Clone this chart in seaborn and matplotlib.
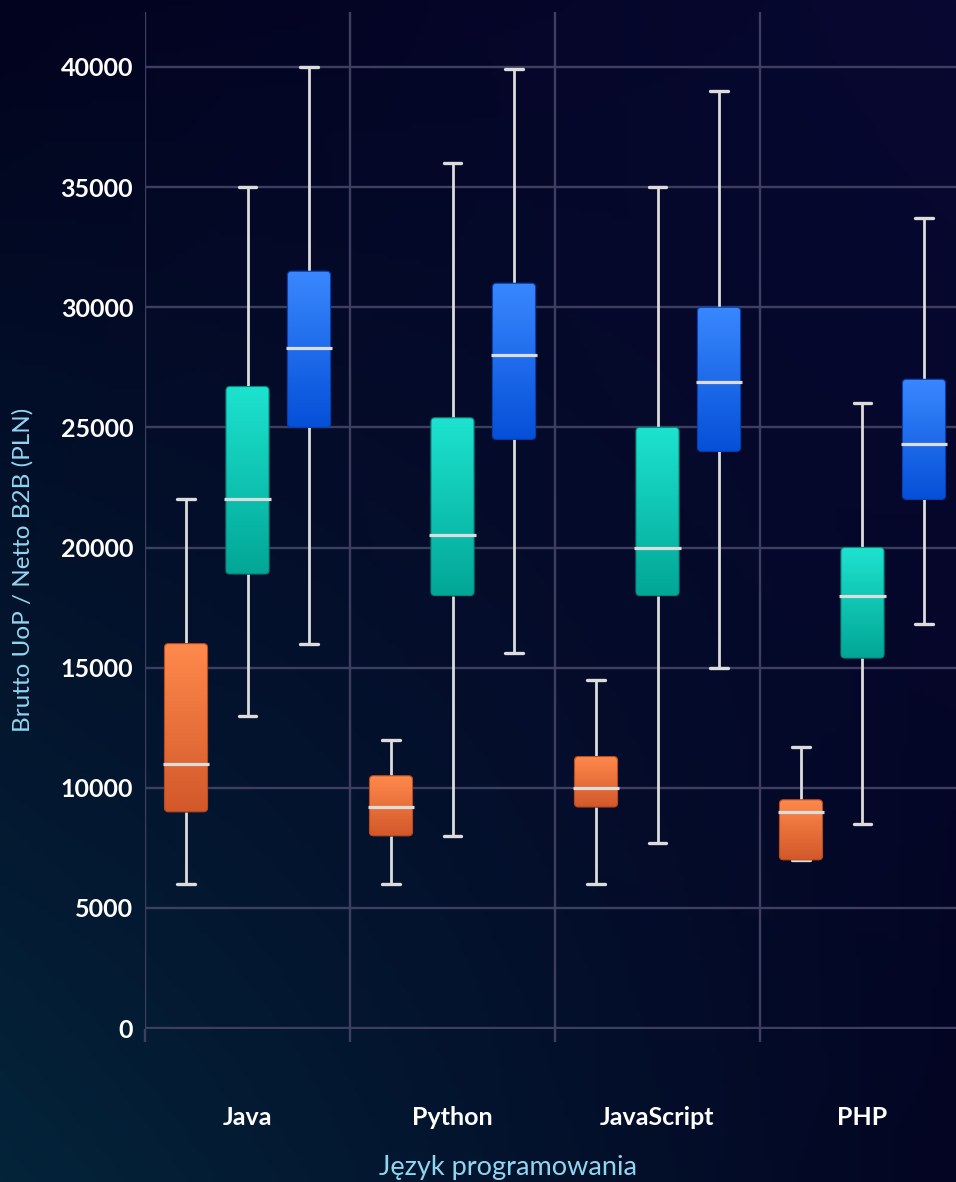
import numpy as np
import pandas as pd
import matplotlib
matplotlib.use("Agg")
import matplotlib.pyplot as plt
from matplotlib.patches import FancyBboxPatch
from matplotlib.colors import LinearSegmentedColormap
import seaborn as sns

# ---------------------------------------------------------------------------
# Data: [min, Q1, median, Q3, max] per language
# ---------------------------------------------------------------------------
languages = ["Java", "Python", "JavaScript", "PHP"]
levels = ["Junior", "Mid", "Senior"]

junior = [[6000, 9000, 11000, 16000, 22000],
          [6000, 8000, 9200, 10500, 12000],
          [6000, 9200, 10000, 11300, 14500],
          [7000, 7000, 9000, 9500, 11700]]
mid = [[13000, 18900, 22000, 26700, 35000],
       [8000, 18000, 20500, 25400, 36000],
       [7700, 18000, 20000, 25000, 35000],
       [8500, 15400, 18000, 20000, 26000]]
senior = [[16000, 25000, 28300, 31500, 40000],
          [15600, 24500, 28000, 31000, 39900],
          [15000, 24000, 26900, 30000, 39000],
          [16800, 22000, 24300, 27000, 33700]]

rows = []
for level, series in zip(levels, [junior, mid, senior]):
    for lang, stats in zip(languages, series):
        for v in stats:
            rows.append({"lang": lang, "level": level, "value": v})
df = pd.DataFrame(rows)

# gradient (top, bottom) per level
grad_colors = {"Junior": ("#ff8a4c", "#d2582a"),
               "Mid": ("#1de3cf", "#02a696"),
               "Senior": ("#3a88ff", "#0550d8")}
edge_colors = {"Junior": "#b84a20", "Mid": "#038a7d", "Senior": "#0441b0"}

BG = "#03041f"
GRID = "#3e3e60"
LINE = "#dcdcdc"
LABEL = "#8fd6f2"

sns.set_theme(style="dark")
plt.rcParams["font.family"] = ["Lato", "DejaVu Sans"]

W, H = 956, 1182
fig = plt.figure(figsize=(W / 100, H / 100), dpi=100, facecolor=BG)

# background gradient
bg = fig.add_axes([0, 0, 1, 1], zorder=-10)
yy, xx = np.mgrid[0:1:200j, 0:1:200j]
tl = np.array([2, 3, 30]) / 255
tr = np.array([8, 8, 50]) / 255
bl = np.array([4, 36, 58]) / 255
br = np.array([3, 5, 34]) / 255
img = ((1 - xx)[..., None] * (1 - yy)[..., None] * tl + xx[..., None] * (1 - yy)[..., None] * tr
       + (1 - xx)[..., None] * yy[..., None] * bl + xx[..., None] * yy[..., None] * br)
bg.imshow(img, extent=(0, 1, 0, 1), aspect="auto", origin="upper")
bg.axis("off")

ymin = -60
ymax = (1028 - 12) / 24.025 * 1000
ax_left, ax_bottom = 145 / W, 1 - (1028 + 24.025 * 0.06) / H
ax_w, ax_h = 820 / W, (ymax - ymin) * 24.025 / 1000 / H
ax = fig.add_axes([ax_left, ax_bottom, ax_w, ax_h])
ax.set_facecolor("none")

sns.boxplot(data=df, x="lang", y="value", hue="level", order=languages,
            hue_order=levels, whis=(0, 100), width=0.9, gap=0.3,
            legend=False, ax=ax,
            whiskerprops=dict(color=LINE, linewidth=2.0),
            capprops=dict(color=LINE, linewidth=2.4),
            medianprops=dict(color=LINE, linewidth=2.3, zorder=5),
            boxprops=dict(linewidth=0))

ax.set_xlim(-0.5, 3.5)
ax.set_ylim(ymin, ymax)

px_x = 820 / 4.0
px_y = 24.025 / 1000
aspect = px_x / px_y
r = 4 / px_x

for level, bc in zip(levels, ax.containers):
    top, bot = grad_colors[level]
    cmap = LinearSegmentedColormap.from_list(level, [bot, top])
    for box in bc.boxes:
        verts = box.get_path().vertices
        x0, x1 = verts[:, 0].min(), verts[:, 0].max()
        y0, y1 = verts[:, 1].min(), verts[:, 1].max()
        box.set_visible(False)
        rb = FancyBboxPatch((x0, y0), x1 - x0, y1 - y0,
                            boxstyle=f"round,pad=0,rounding_size={r}",
                            mutation_aspect=aspect, facecolor="none",
                            edgecolor=edge_colors[level], linewidth=0.8, zorder=4)
        ax.add_patch(rb)
        grad = np.linspace(0, 1, 256).reshape(-1, 1)
        im = ax.imshow(grad, extent=(x0, x1, y0, y1), aspect="auto",
                       origin="lower", cmap=cmap, zorder=3)
        im.set_clip_path(rb)
    for cap in bc.caps:
        xd = cap.get_xdata()
        c = (xd[0] + xd[1]) / 2
        cap.set_xdata([c - 0.042, c + 0.042])
    for med in bc.medians:
        xd = med.get_xdata()
        med.set_xdata([min(xd) - 0.008, max(xd) + 0.008])

ax.set_xlim(-0.5, 3.5)
ax.set_ylim(ymin, ymax)

# grid
ax.set_yticks(np.arange(0, 40001, 5000))
ax.set_xticks(range(len(languages)))
ax.set_xticklabels(languages)
ax.set_xticks(np.arange(-0.5, 3.6, 1.0), minor=True)
ax.grid(False)
ax.grid(axis="y", which="major", color=GRID, linewidth=1.7)
ax.grid(axis="x", which="minor", color=GRID, linewidth=1.7)
ax.set_axisbelow(True)
for s in ax.spines.values():
    s.set_visible(False)

ax.tick_params(axis="y", which="major", length=0, pad=8.5,
               labelsize=18, labelcolor="white")
ax.tick_params(axis="x", which="major", length=0, pad=55,
               labelsize=18, labelcolor="white")
ax.tick_params(axis="x", which="minor", bottom=True, length=9, width=1.7,
               color=GRID, direction="out")
for lbl in ax.get_xticklabels() + ax.get_yticklabels():
    lbl.set_fontweight("bold")

ax.set_xlabel("")
ax.set_ylabel("")
fig.text(508 / W, 1 - 1175 / H, "Język programowania", color=LABEL,
         fontsize=19.5, ha="center", va="baseline")
fig.text(23 / W, 1 - 570 / H, "Brutto UoP / Netto B2B (PLN)", color=LABEL,
         fontsize=17.5, ha="center", va="center", rotation=90)

fig.savefig("out.png", dpi=100, facecolor=BG)
